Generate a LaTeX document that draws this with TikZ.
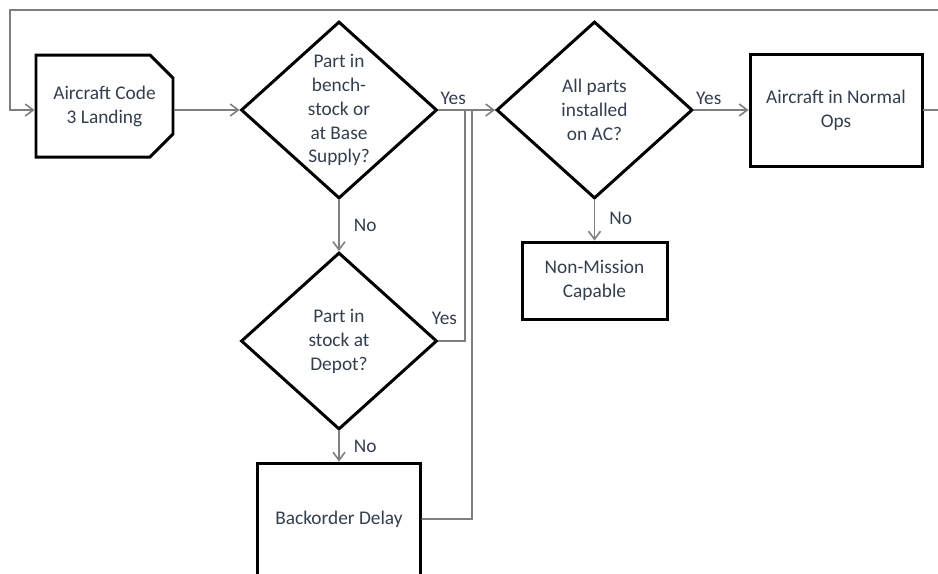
\documentclass[tikz,border=0pt]{standalone}
\usepackage{fontspec}
\setmainfont{Carlito}
\usepackage{tikz}
\usetikzlibrary{arrows.meta,shapes.geometric,shapes.misc}
\definecolor{txtcol}{HTML}{333E4E}
\definecolor{linecol}{HTML}{7F7F7F}

\begin{document}
\begin{tikzpicture}[x=0.2mm,y=-0.2mm,>={Straight Barb[length=1.6mm,width=2.4mm]},
  font=\fontsize{11}{13.6}\selectfont,text=txtcol,line cap=round,
  box/.style={draw=black,line width=1.7pt,fill=white,align=center,inner sep=0pt},
  decision/.style={diamond,draw=black,line width=1.7pt,align=center,inner sep=0pt,
    minimum width=39.2mm,minimum height=35.4mm},
  conn/.style={draw=linecol,line width=0.9pt},
  lbl/.style={inner sep=0pt,text=txtcol}]
\path[clip,use as bounding box] (0,0) rectangle (938,573);
% shapes
\node[box,chamfered rectangle,chamfered rectangle corners={north east,south east},
  chamfered rectangle xsep=2.3mm,chamfered rectangle ysep=2.3mm,
  minimum width=27.4mm,minimum height=20.4mm] (start) at (104.5,106) {Aircraft Code\\3 Landing};
\node[decision] (stock) at (339,110) {Part in\\bench-\\stock or\\at Base\\Supply?};
\node[decision] (depot) at (339,341) {Part in\\stock at\\Depot?};
\node[decision] (inst) at (594.5,110) {All parts\\installed\\on AC?};
\node[box,minimum width=34.4mm,minimum height=22.4mm] (ops) at (836,110) {Aircraft in Normal\\Ops};
\node[box,minimum width=29mm,minimum height=15.4mm] (nmc) at (594.5,280.5) {Non-Mission\\Capable};
\node[box,minimum width=32.6mm,minimum height=22.4mm] (back) at (339,519) {Backorder Delay};
% junctions
\coordinate (jdepot) at (465,110);
\coordinate (jback) at (472,110);
\coordinate (loop) at (10,10);
% connectors
\draw[conn,->] (start.east |- stock.west) -- (stock.west);
\draw[conn,->] (stock.east) -- (inst.west);
\node[lbl,anchor=south west] at ([xshift=1pt,yshift=3pt]stock.east) {Yes};
\draw[conn,->] (stock.south) -- node[lbl,right=8pt]{No} (depot.north);
\draw[conn] (depot.east) -| (jdepot);
\node[lbl,anchor=south west] at ([xshift=-4pt,yshift=9pt]depot.east) {Yes};
\draw[conn,->] (depot.south) -- node[lbl,right=8pt]{No} (back.north);
\draw[conn] (back.east) -| (jback);
\draw[conn,->] (inst.south) -- node[lbl,right=8pt,yshift=1pt]{No} (nmc.north);
\draw[conn,->] (inst.east) -- (ops.west);
\node[lbl,anchor=south west] at ([xshift=1pt,yshift=3pt]inst.east) {Yes};
\draw[conn,->] (ops.east) -- ++(40,0) |- (loop) |- (start.west |- stock.west);
\end{tikzpicture}
\end{document}
